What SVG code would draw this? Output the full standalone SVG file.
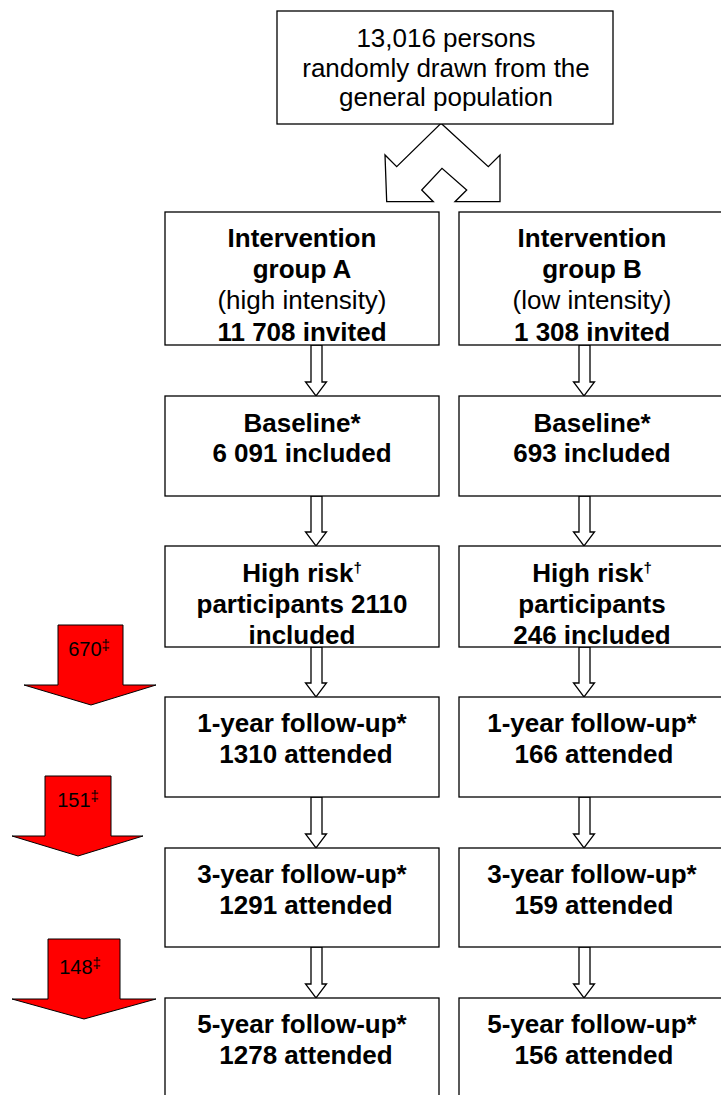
<svg xmlns="http://www.w3.org/2000/svg" width="721" height="1095" viewBox="0 0 721 1095">
<style>
.box{fill:#fff;stroke:#000;stroke-width:1.3}
.con{fill:#fff;stroke:#000;stroke-width:1.3;stroke-linejoin:miter}
.red{fill:#ff0000;stroke:#000;stroke-width:1}
text{font-family:"Liberation Sans",Arial,sans-serif;fill:#000;text-anchor:middle}
.b{font-size:26px;font-weight:bold}
.r{font-size:26px}
.s{font-size:20px}
.sup{font-size:15px}
.supb{font-size:15px}
</style>
<rect width="721" height="1095" fill="#fff"/>
<g id="connectors">
<polygon class="con" points="441,123.3 488.3,166.7 500,155 500,201.7 455,201.7 466.7,190 442,168.3 421.7,190 433.3,201.7 386.7,201.7 385,155 396.7,166.7"/>
<polygon class="con" points="311,345 311,382 305.5,382 316,396 326.5,382 322,382 322,345"/>
<polygon class="con" points="579,345 579,382 573.5,382 584,396 594.5,382 590,382 590,345"/>
<polygon class="con" points="311,496 311,532 305.5,532 316,546 326.5,532 322,532 322,496"/>
<polygon class="con" points="579,496 579,532 573.5,532 584,546 594.5,532 590,532 590,496"/>
<polygon class="con" points="311,647 311,683 305.5,683 316,697 326.5,683 322,683 322,647"/>
<polygon class="con" points="579,647 579,683 573.5,683 584,697 594.5,683 590,683 590,647"/>
<polygon class="con" points="311,797 311,834 305.5,834 316,848 326.5,834 322,834 322,797"/>
<polygon class="con" points="579,797 579,834 573.5,834 584,848 594.5,834 590,834 590,797"/>
<polygon class="con" points="311,947 311,984 305.5,984 316,998 326.5,984 322,984 322,947"/>
<polygon class="con" points="579,947 579,984 573.5,984 584,998 594.5,984 590,984 590,947"/>
</g>
<g id="population">
<rect class="box" x="277" y="11" width="336" height="113"/>
<text class="r" x="446" y="47">13,016 persons</text>
<text class="r" x="446" y="77">randomly drawn from the</text>
<text class="r" x="446" y="106">general population</text>
</g>
<g id="groupA">
<rect class="box" x="165" y="212" width="274" height="133"/>
<text class="b" x="302" y="247">Intervention</text>
<text class="b" x="302" y="278">group A</text>
<text class="r" x="302" y="309">(high intensity)</text>
<text class="b" x="302" y="341">11 708 invited</text>
</g>
<g id="groupB">
<rect class="box" x="459" y="212" width="268" height="133"/>
<text class="b" x="592" y="247">Intervention</text>
<text class="b" x="592" y="278">group B</text>
<text class="r" x="592" y="309">(low intensity)</text>
<text class="b" x="592" y="341">1 308 invited</text>
</g>
<g id="baselineA">
<rect class="box" x="165" y="396" width="274" height="100"/>
<text class="b" x="302" y="432">Baseline*</text>
<text class="b" x="302" y="462">6 091 included</text>
</g>
<g id="baselineB">
<rect class="box" x="459" y="396" width="268" height="100"/>
<text class="b" x="592" y="432">Baseline*</text>
<text class="b" x="592" y="462">693 included</text>
</g>
<g id="highriskA">
<rect class="box" x="165" y="546" width="274" height="101"/>
<text class="b" x="302" y="582">High risk<tspan class="supb" dy="-9">†</tspan></text>
<text class="b" x="302" y="613">participants 2110</text>
<text class="b" x="302" y="644">included</text>
</g>
<g id="highriskB">
<rect class="box" x="459" y="546" width="268" height="101"/>
<text class="b" x="592" y="582">High risk<tspan class="supb" dy="-9">†</tspan></text>
<text class="b" x="592" y="613">participants</text>
<text class="b" x="592" y="644">246 included</text>
</g>
<g id="year1A">
<rect class="box" x="165" y="697" width="274" height="100"/>
<text class="b" x="302" y="732">1-year follow-up*</text>
<text class="b" x="306" y="763">1310 attended</text>
</g>
<g id="year1B">
<rect class="box" x="459" y="697" width="268" height="100"/>
<text class="b" x="592" y="732">1-year follow-up*</text>
<text class="b" x="594" y="763">166 attended</text>
</g>
<g id="year3A">
<rect class="box" x="165" y="848" width="274" height="99"/>
<text class="b" x="302" y="883">3-year follow-up*</text>
<text class="b" x="306" y="914">1291 attended</text>
</g>
<g id="year3B">
<rect class="box" x="459" y="848" width="268" height="99"/>
<text class="b" x="592" y="883">3-year follow-up*</text>
<text class="b" x="594" y="914">159 attended</text>
</g>
<g id="year5A">
<rect class="box" x="165" y="998" width="274" height="110"/>
<text class="b" x="302" y="1033">5-year follow-up*</text>
<text class="b" x="306" y="1064">1278 attended</text>
</g>
<g id="year5B">
<rect class="box" x="459" y="998" width="268" height="110"/>
<text class="b" x="592" y="1033">5-year follow-up*</text>
<text class="b" x="594" y="1064">156 attended</text>
</g>
<g id="loss1">
<polygon class="red" points="58,625 123,625 123,685 156,685 91,705 24,685 58,685"/>
<text class="s" x="89" y="656">670<tspan class="sup" dy="-6">‡</tspan></text>
</g>
<g id="loss2">
<polygon class="red" points="45,776 111,776 111,836 143,836 78,856 12,836 45,836"/>
<text class="s" x="78" y="807">151<tspan class="sup" dy="-6">‡</tspan></text>
</g>
<g id="loss3">
<polygon class="red" points="48,939 120,939 120,999 156,999 84,1019 12,999 48,999"/>
<text class="s" x="80" y="974">148<tspan class="sup" dy="-6">‡</tspan></text>
</g>
</svg>
